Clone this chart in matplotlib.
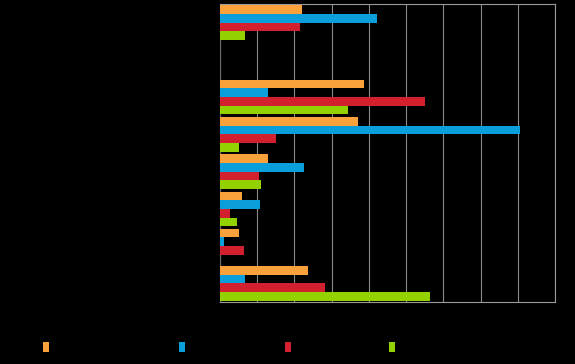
import numpy as np
import matplotlib
matplotlib.use("Agg")
import matplotlib.pyplot as plt
from matplotlib.patches import Patch

# === Data (in grid units) ===
groups = list(range(8))  # category labels not readable in the reference
series_orange = [2.21, 0.0, 3.87, 3.70, 1.28, 0.60, 0.52, 2.36]
series_blue = [4.23, 0.0, 1.28, 8.05, 2.25, 1.08, 0.10, 0.68]
series_red = [2.14, 0.0, 5.52, 1.51, 1.06, 0.28, 0.64, 2.82]
series_green = [0.68, 0.0, 3.45, 0.51, 1.10, 0.45, 0.0, 5.65]
x_ticks = list(range(0, 10))

colors = ['#F9A23C', '#0A9FDB', '#D2202F', '#93D100']
series = [series_orange, series_blue, series_red, series_green]

# === Figure ===
fig = plt.figure(figsize=(5.75, 3.64), dpi=100, facecolor='black')
ax = fig.add_axes([220 / 575, 1 - 302 / 364, 335 / 575, 298 / 364])
ax.set_facecolor('black')

y = np.arange(len(groups))
bar_h = 0.232
for i, (vals, c) in enumerate(zip(series, colors)):
    ax.barh(y - 1.5 * bar_h + i * bar_h, vals, height=bar_h, color=c, zorder=3)

ax.set_xlim(0, 9)
ax.set_ylim(len(groups) - 0.5, -0.5)
ax.set_xticks(x_ticks)
ax.set_yticks([])
ax.tick_params(axis='x', length=0, labelbottom=False)
ax.grid(axis='x', color='#8a8a8a', linewidth=0.8, zorder=0)

for side in ['top', 'right', 'bottom']:
    ax.spines[side].set_color('#9a9a9a')
    ax.spines[side].set_linewidth(0.8)
ax.spines['left'].set_color('#6a6a6a')
ax.spines['left'].set_linewidth(0.8)
ax.spines['left'].set_zorder(2)

# === Legend (labels unreadable: handles only) ===
legend_x = [46 / 575, 182 / 575, 288 / 575, 392 / 575]
for c, lx in zip(colors, legend_x):
    leg = fig.legend(handles=[Patch(facecolor=c)], labels=[''],
                     loc='center', bbox_to_anchor=(lx, 1 - 348 / 364),
                     frameon=False, handlelength=0.4, handleheight=0.7,
                     handletextpad=0, borderpad=0)

fig.savefig('out.png', dpi=100, facecolor='black')
